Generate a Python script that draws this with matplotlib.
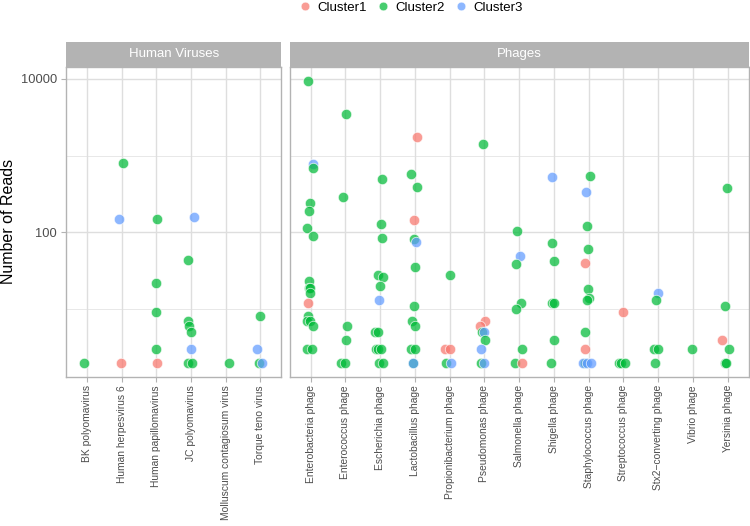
import numpy as np
import matplotlib
matplotlib.use("Agg")
import matplotlib.pyplot as plt
from matplotlib.lines import Line2D

plt.rcParams['font.family'] = ['Liberation Sans', 'DejaVu Sans']

# ---------------- data ----------------
hv_categories = ["BK polyomavirus", "Human herpesvirus 6", "Human papillomavirus",
                 "JC polyomavirus", "Molluscum contagiosum virus", "Torque teno virus"]
ph_categories = ["Enterobacteria phage", "Enterococcus phage", "Escherichia phage",
                 "Lactobacillus phage", "Propionibacterium phage", "Pseudomonas phage",
                 "Salmonella phage", "Shigella phage", "Staphylococcus phage",
                 "Streptococcus phage", "Stx2\u2212converting phage", "Vibrio phage",
                 "Yersinia phage"]

hv_category = [0,
               1, 1, 1,
               2, 2, 2, 2, 2,
               3, 3, 3, 3, 3, 3, 3, 3,
               4,
               5, 5, 5, 5]
hv_reads = [2,
            794, 147, 2,
            150, 22, 9, 3, 2,
            158, 44, 7, 6, 5, 3, 2, 2,
            2,
            8, 3, 2, 2]
hv_cluster = [2,
              2, 3, 1,
              2, 2, 2, 2, 1,
              3, 2, 2, 2, 2, 3, 2, 2,
              2,
              2, 3, 2, 3]
hv_jitter = [-0.09,
             0.03, -0.09, -0.02,
             0.03, -0.02, -0.01, -0.02, 0.03,
             0.08, -0.10, -0.08, -0.06, -0.01, -0.01, -0.09, 0.03,
             0.08,
             0.0, -0.10, -0.05, 0.05]

ph_counts = [18, 6, 14, 14, 5, 9, 8, 7, 14, 4, 5, 1, 6]
ph_reads = [
    # Enterobacteria
    9420, 787, 690, 242, 190, 114, 90, 23, 19, 19, 16, 12, 8, 7, 7, 6, 3, 3,
    # Enterococcus
    3510, 290, 6, 4, 2, 2,
    # Escherichia
    492, 129, 84, 28, 26.5, 20, 13, 5, 5, 3, 3, 3, 2, 2,
    # Lactobacillus
    1730, 577, 391, 146, 82, 75, 35, 11, 7, 6, 3, 3, 2, 2,
    # Propionibacterium
    28, 3, 3, 2, 2,
    # Pseudomonas
    1430, 7, 6, 5, 5, 4, 3, 2, 2,
    # Salmonella
    103, 49, 39, 12, 10, 3, 2, 2,
    # Shigella
    527, 73, 42, 12, 12, 4, 2,
    # Staphylococcus
    538, 336, 122, 61, 40, 18, 14, 13, 5, 3, 2, 2, 2, 2,
    # Streptococcus
    9, 2, 2, 2,
    # Stx2-converting
    16, 13, 3, 3, 2,
    # Vibrio
    3,
    # Yersinia
    376, 11, 4, 3, 2, 2,
]
ph_cluster = [
    2, 3, 2, 2, 2, 2, 2, 2, 2, 2, 2, 1, 2, 2, 2, 2, 2, 2,
    2, 2, 2, 2, 2, 2,
    2, 2, 2, 2, 2, 2, 3, 2, 2, 2, 2, 2, 2, 2,
    1, 2, 2, 1, 2, 3, 2, 2, 2, 2, 2, 2, 2, 3,
    2, 1, 1, 2, 3,
    2, 1, 1, 2, 3, 2, 3, 2, 3,
    2, 3, 2, 2, 2, 2, 2, 1,
    3, 2, 2, 2, 2, 2, 2,
    2, 3, 2, 2, 1, 2, 2, 2, 2, 1, 2, 3, 3, 3,
    1, 2, 2, 2,
    3, 2, 2, 2, 2,
    2,
    2, 2, 1, 2, 2, 2,
]
ph_jitter = [
    -0.06, 0.07, 0.07, -0.02, -0.05, -0.10, 0.06, -0.04, -0.04, -0.02, -0.02, -0.08, -0.06, -0.09, -0.01, 0.07, -0.10, 0.04,
    0.03, -0.07, 0.04, 0.01, -0.12, -0.01,
    0.05, 0.04, 0.05, -0.05, 0.07, 0.0, -0.04, -0.14, -0.06, -0.12, -0.05, 0.04, -0.02, 0.07,
    0.05, -0.10, 0.07, -0.02, -0.03, 0.03, 0.0, -0.01, -0.07, 0.01, -0.11, 0.01, -0.06, -0.04,
    0.02, -0.13, 0.02, -0.11, 0.03,
    -0.05, 0.01, -0.13, -0.07, 0.0, 0.02, -0.09, -0.10, 0.0,
    -0.06, 0.03, -0.09, 0.05, -0.08, 0.07, -0.12, 0.07,
    -0.04, -0.06, -0.01, -0.06, 0.01, -0.01, -0.09,
    0.05, -0.07, -0.06, -0.01, -0.10, -0.01, 0.02, -0.04, -0.11, -0.11, -0.10, -0.15, -0.06, 0.06,
    0.0, -0.13, -0.07, 0.04,
    0.01, -0.07, -0.12, 0.0, -0.10,
    -0.03,
    -0.01, -0.09, -0.15, 0.04, -0.07, -0.04,
]
ph_category = [k for k, n in enumerate(ph_counts) for _ in range(n)]

cluster_names = ["Cluster1", "Cluster2", "Cluster3"]
facet_titles = ["Human Viruses", "Phages"]
y_title = "Number of Reads"

# ---------------- styling ----------------
W, H = 750, 526
fig = plt.figure(figsize=(W / 100, H / 100), dpi=100)
colors = {1: "#F8766D", 2: "#00BA38", 3: "#619CFF"}
ALPHA = 0.72
grid_col = "#DEDEDE"
border_col = "#B3B3B3"

def fx(px):
    return px / W

def fy(py):
    return 1 - py / H

panel_top, panel_bot = 66.7, 376.7
strip_top = 41.5
panels = [(66.2, 281.3), (289.7, 748.5)]

all_reads = hv_reads + ph_reads
lmin, lmax = np.log10(min(all_reads)), np.log10(max(all_reads))
span = lmax - lmin
ylim = (10 ** (lmin - 0.05 * span), 10 ** (lmax + 0.05 * span))

datasets = [(hv_categories, hv_category, hv_reads, hv_cluster, hv_jitter),
            (ph_categories, ph_category, ph_reads, ph_cluster, ph_jitter)]

for i, ((x0, x1), (cats, cidx, reads, clus, jit)) in enumerate(zip(panels, datasets)):
    ax = fig.add_axes([fx(x0), fy(panel_bot), fx(x1 - x0), (panel_bot - panel_top) / H])
    ax.set_yscale('log')
    ax.set_ylim(*ylim)
    ax.set_xlim(-0.6, len(cats) - 1 + 0.6)
    # grid
    for v in [10, 1000]:
        ax.axhline(v, color=grid_col, lw=0.5, zorder=0)
    for v in [100, 10000]:
        ax.axhline(v, color=grid_col, lw=1.0, zorder=0)
    for k in range(len(cats)):
        ax.axvline(k, color=grid_col, lw=1.0, zorder=0)
    xs = np.array(cidx) + np.array(jit)
    for x, r, c in zip(xs, reads, clus):
        ax.scatter([x], [r], s=56, color=colors[c], alpha=ALPHA,
                   edgecolors='white', linewidths=0.6, zorder=3)
    ax.set_xticks(range(len(cats)))
    ax.set_xticklabels(cats, rotation=90, fontsize=7.4, color='#4D4D4D', va='top')
    ax.yaxis.set_minor_locator(matplotlib.ticker.NullLocator())
    ax.set_yticks([100, 10000])
    if i == 0:
        ax.set_yticklabels(["100", "10000"], fontsize=9.3, color='#4D4D4D')
    else:
        ax.set_yticklabels([])
    ax.tick_params(axis='both', color=border_col, width=0.8, length=3.5, pad=3)
    ax.tick_params(axis='x', pad=2.5)
    if i == 1:
        ax.tick_params(axis='y', length=0)
    for s in ax.spines.values():
        s.set_color(border_col)
        s.set_linewidth(1.0)
    # strip
    sax = fig.add_axes([fx(x0), fy(panel_top), fx(x1 - x0), (panel_top - strip_top) / H])
    sax.set_facecolor(border_col)
    sax.set_xticks([]); sax.set_yticks([])
    for s in sax.spines.values():
        s.set_visible(False)
    sax.text(0.5, 0.5, facet_titles[i], color='white', fontsize=9.5,
             ha='center', va='center', transform=sax.transAxes)

fig.text(fx(9), fy((panel_top + panel_bot) / 2), y_title, rotation=90,
         fontsize=11.5, ha='center', va='center', color='black')

# legend
handles = [Line2D([0], [0], marker='o', linestyle='', markersize=6.2,
                  markerfacecolor=colors[k], markeredgecolor='white', alpha=ALPHA,
                  markeredgewidth=0.5) for k in (1, 2, 3)]
fig.legend(handles, cluster_names, loc='center', bbox_to_anchor=(fx(410), fy(8)),
           ncol=3, frameon=False, fontsize=9.5, handletextpad=0.35,
           columnspacing=0.6, handlelength=1.2)

fig.savefig("out.png", dpi=100)
